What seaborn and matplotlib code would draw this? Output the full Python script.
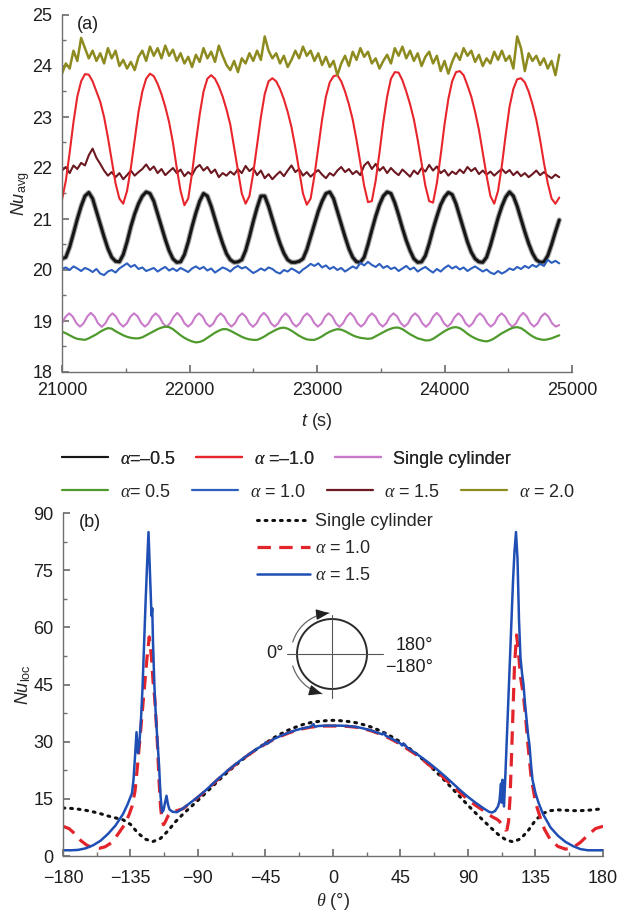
import numpy as np
import pandas as pd
import matplotlib
matplotlib.use("Agg")
import matplotlib.pyplot as plt
from matplotlib.lines import Line2D
from matplotlib.ticker import MultipleLocator
import seaborn as sns

# ---------------------------------------------------------------- data
# (a) area-averaged Nusselt number against time; every series spans the same window
T_START, T_END = 21000, 24900

nu_m05 = [20.22, 20.25, 20.45, 20.72, 21.0, 21.25, 21.45, 21.52, 21.4, 21.15, 20.9, 20.65, 20.42, 20.25,
          20.17, 20.16, 20.3, 20.55, 20.85, 21.1, 21.3, 21.45, 21.53, 21.5, 21.35, 21.1, 20.85, 20.6,
          20.38, 20.22, 20.15, 20.16, 20.3, 20.55, 20.85, 21.12, 21.35, 21.5, 21.45, 21.25, 21.0, 20.75,
          20.52, 20.32, 20.2, 20.15, 20.16, 20.2, 20.38, 20.65, 20.95, 21.22, 21.45, 21.45, 21.25, 21.0,
          20.75, 20.52, 20.33, 20.2, 20.15, 20.15, 20.17, 20.22, 20.4, 20.65, 20.9, 21.15, 21.35, 21.5,
          21.53, 21.4, 21.15, 20.9, 20.65, 20.42, 20.25, 20.16, 20.15, 20.25, 20.5, 20.78, 21.05, 21.28,
          21.45, 21.53, 21.5, 21.32, 21.08, 20.82, 20.58, 20.38, 20.22, 20.15, 20.16, 20.28, 20.52, 20.8,
          21.05, 21.28, 21.43, 21.52, 21.48, 21.3, 21.05, 20.8, 20.55, 20.35, 20.22, 20.16, 20.15, 20.25,
          20.48, 20.75, 21.02, 21.25, 21.43, 21.53, 21.45, 21.25, 21.0, 20.75, 20.52, 20.33, 20.2, 20.15,
          20.16, 20.28, 20.5, 20.75, 20.98]

nu_m10 = [21.38, 21.75, 22.3, 22.9, 23.4, 23.7, 23.84, 23.83, 23.7, 23.5, 23.3, 23.0, 22.6, 22.15, 21.7,
          21.4, 21.3, 21.55, 22.0, 22.55, 23.1, 23.5, 23.75, 23.85, 23.8, 23.65, 23.45, 23.2, 22.9, 22.5,
          22.0, 21.55, 21.27, 21.4, 21.9, 22.5, 23.05, 23.5, 23.75, 23.82, 23.75, 23.6, 23.4, 23.15, 22.85,
          22.4, 21.95, 21.5, 21.3, 21.45, 21.9, 22.45, 23.0, 23.45, 23.7, 23.76, 23.7, 23.55, 23.35, 23.1,
          22.8, 22.4, 21.95, 21.5, 21.28, 21.4, 21.85, 22.4, 22.95, 23.4, 23.68, 23.8, 23.82, 23.7, 23.5,
          23.25, 22.95, 22.55, 22.1, 21.65, 21.33, 21.35, 21.75, 22.3, 22.9, 23.4, 23.75, 23.88, 23.87,
          23.72, 23.5, 23.25, 22.95, 22.55, 22.1, 21.65, 21.35, 21.32, 21.7, 22.25, 22.85, 23.35, 23.7,
          23.88, 23.9, 23.82, 23.62, 23.4, 23.1, 22.75, 22.3, 21.85, 21.45, 21.3, 21.55, 22.05, 22.65,
          23.2, 23.55, 23.74, 23.76, 23.68, 23.5, 23.25, 22.95, 22.55, 22.1, 21.7, 21.4, 21.3, 21.42]

nu_single = [18.955, 19.085,
             19.15, 19.085, 18.955, 18.89, 18.955, 19.085, 19.16, 19.09, 18.955, 18.885, 18.95, 19.08,
             19.15, 19.085, 18.955, 18.89, 18.955, 19.085, 19.15, 19.09, 18.96, 18.89, 18.95, 19.08,
             19.15, 19.085, 18.955, 18.885, 18.955, 19.085, 19.16, 19.085, 18.955, 18.89, 18.955, 19.085,
             19.15, 19.09, 18.955, 18.89, 18.95, 19.08, 19.15, 19.085, 18.96, 18.89, 18.955, 19.085,
             19.15, 19.085, 18.955, 18.885, 18.955, 19.085, 19.16, 19.09, 18.955, 18.89, 18.955, 19.08,
             19.15, 19.085, 18.955, 18.89, 18.955, 19.085, 19.15, 19.085, 18.96, 18.89, 18.95, 19.085,
             19.15, 19.09, 18.955, 18.885, 18.955, 19.085, 19.16, 19.085, 18.955, 18.89, 18.955, 19.08,
             19.15, 19.085, 18.955, 18.89, 18.955, 19.085, 19.15, 19.09, 18.96, 18.89, 18.95, 19.085,
             19.15, 19.085, 18.955, 18.885, 18.955, 19.085, 19.16, 19.085, 18.955, 18.89, 18.955, 19.08,
             19.15, 19.09, 18.955, 18.89, 18.955, 19.085, 19.15, 19.085, 18.96, 18.89, 18.95, 19.085,
             19.15, 19.085, 18.955, 18.885, 18.955, 19.085, 19.16, 19.09, 18.955, 18.89, 18.955, 19.085,
             19.15, 19.085, 18.955, 18.89, 18.92]

nu_p05 = [18.79, 18.76, 18.72, 18.68, 18.65, 18.64, 18.63, 18.66, 18.7, 18.74, 18.79, 18.83, 18.86, 18.85,
          18.8, 18.76, 18.72, 18.69, 18.67, 18.66, 18.66, 18.68, 18.72, 18.76, 18.8, 18.84, 18.87, 18.89,
          18.88, 18.84, 18.78, 18.72, 18.67, 18.63, 18.6, 18.58, 18.59, 18.62, 18.67, 18.72, 18.77, 18.81,
          18.84, 18.84, 18.81, 18.77, 18.73, 18.69, 18.66, 18.64, 18.63, 18.63, 18.66, 18.7, 18.75, 18.79,
          18.83, 18.86, 18.87, 18.85, 18.81, 18.76, 18.71, 18.67, 18.64, 18.63, 18.63, 18.66, 18.7, 18.75,
          18.79, 18.82, 18.84, 18.83, 18.8, 18.76, 18.72, 18.69, 18.67, 18.66, 18.65, 18.66, 18.7, 18.74,
          18.78, 18.82, 18.85, 18.87, 18.87, 18.84, 18.79, 18.74, 18.7, 18.66, 18.64, 18.62, 18.62, 18.65,
          18.7, 18.75, 18.8, 18.84, 18.87, 18.88, 18.86, 18.81, 18.75, 18.7, 18.66, 18.63, 18.61, 18.6,
          18.62, 18.66, 18.71, 18.76, 18.8, 18.84, 18.87, 18.88, 18.86, 18.81, 18.75, 18.7, 18.66, 18.64,
          18.63, 18.64, 18.66, 18.69, 18.72]

nu_p10 = [20.02, 20.05, 20.0, 20.07, 20.03, 19.98, 20.04, 20.01, 19.96, 20.02, 19.93, 19.9, 19.97, 20.0,
          19.95, 20.03, 20.08, 20.13, 20.06, 20.1, 20.02, 20.05, 19.98, 20.01, 20.04, 19.97, 20.02, 20.06,
          19.99, 20.03, 19.98, 20.04, 20.0, 19.96, 20.03, 20.07, 20.02, 20.06, 19.99, 20.03, 19.95, 20.0,
          20.05, 20.02, 19.97, 20.04, 20.08, 20.03, 20.06, 20.0, 19.94, 19.98, 20.03, 19.99, 20.05, 20.02,
          19.96, 19.93, 20.0, 19.97, 20.03, 19.99, 19.94, 20.01, 20.06, 20.12, 20.08, 20.13, 20.05, 20.09,
          20.02, 20.06, 20.0, 20.04, 19.97, 20.02, 20.07, 20.03, 20.14, 20.09, 20.16, 20.1, 20.06, 20.12,
          20.04, 20.08, 20.02, 20.05, 19.98, 20.03, 20.08, 20.01, 20.05, 19.97, 20.02, 20.06, 20.0, 19.95,
          20.02, 19.97, 20.04, 20.09, 20.03, 20.07, 20.01, 20.05, 19.98, 20.03, 20.07, 20.02, 19.97, 20.01,
          19.95, 19.92, 19.98, 19.93, 19.97, 20.03, 20.0, 20.06, 20.02, 20.08, 20.04, 20.1, 20.06, 20.12,
          20.08, 20.2, 20.14, 20.18, 20.13]

nu_p15 = [21.95, 22.02, 21.9, 22.05, 21.98, 22.1, 22.05, 22.25, 22.38, 22.2, 22.08, 21.95, 21.85, 21.92,
          21.82, 21.9, 21.78, 21.86, 21.95, 21.85, 21.92, 21.98, 22.07, 21.96, 22.03, 21.9, 21.98, 21.86,
          21.93, 22.0, 21.9, 21.97, 21.84, 21.92, 21.86, 22.0, 22.06, 21.95, 22.02, 21.9, 21.97, 21.82,
          21.9, 21.85, 21.93, 21.87, 21.98, 21.9, 22.04, 21.94, 22.0, 21.86, 21.95, 21.8, 21.88, 21.78,
          21.86, 21.93, 21.84, 21.95, 22.05, 21.92, 21.98, 21.85, 21.92, 21.83, 21.9, 21.96, 21.87, 21.8,
          21.9, 21.85, 21.95, 22.02, 21.92, 21.98, 21.88, 21.94, 21.86, 22.05, 22.12, 21.98, 22.08, 21.95,
          22.02, 21.9, 22.0, 21.92, 21.86, 21.97, 21.9, 21.83, 21.95, 21.88, 22.0, 21.93, 22.06, 21.95,
          22.03, 21.9, 21.96, 21.85, 21.93, 21.88, 21.97, 21.9, 22.02, 21.94, 22.0, 21.88, 21.95, 21.87,
          21.93, 21.85, 21.92, 21.98, 21.9, 21.96, 21.86, 21.93, 21.84, 21.9, 21.82, 21.88, 21.95, 21.86,
          21.92, 21.85, 21.8, 21.87, 21.82]

nu_p20 = [23.85, 24.05, 23.95, 24.3, 24.1, 24.55, 24.35, 24.15, 24.3, 24.1, 24.25, 24.05, 24.35, 24.15,
          24.3, 24.0, 24.12, 23.95, 24.08, 23.92, 24.18, 24.3, 24.1, 24.38, 24.2, 24.35, 24.15, 24.4, 24.2,
          24.32, 24.1, 24.25, 24.05, 24.18, 23.98, 24.22, 24.08, 24.35, 24.15, 24.28, 24.08, 24.4, 24.2,
          24.02, 23.92, 24.1, 23.88, 24.15, 24.05, 24.25, 24.1, 24.3, 24.12, 24.58, 24.3, 24.15, 24.25,
          24.05, 24.2, 23.98, 24.12, 24.3, 24.15, 24.38, 24.2, 24.3, 24.1, 24.25, 24.02, 24.18, 23.98,
          24.1, 23.82, 24.05, 24.2, 24.0, 24.28, 24.12, 24.35, 24.18, 24.28, 24.05, 24.15, 23.95, 24.1,
          24.22, 24.05, 24.35, 24.2, 24.38, 24.15, 24.3, 24.1, 24.25, 24.0, 24.18, 24.28, 24.05, 24.2,
          23.9, 24.1, 23.85, 24.08, 24.25, 24.12, 24.35, 24.2, 24.3, 24.08, 24.22, 24.0, 24.15, 24.05,
          24.28, 24.12, 24.3, 24.1, 24.2, 23.95, 24.58, 24.35, 23.9, 24.25, 24.1, 24.2, 24.02, 24.15,
          23.95, 24.1, 23.82, 24.22]

# (b) local Nusselt number around the cylinder
theta_single = list(range(-180, 181, 5))
nuloc_single = [12.6, 12.5, 12.3, 12.0, 11.6, 11.1, 10.5, 10.0, 9.5, 8.3, 6.0, 4.4, 3.8, 4.6, 6.6, 9.0,
                11.0, 12.8, 14.6, 16.5, 18.4, 20.3, 22.1, 23.8, 25.4, 26.9, 28.3, 29.6, 30.9, 32.0, 33.0,
                33.8, 34.5, 35.0, 35.3, 35.5, 35.6,
                35.5, 35.3, 35.0, 34.5, 33.9, 33.1, 32.2, 31.1, 29.9, 28.5, 27.0, 25.3, 23.5, 21.6, 19.6,
                17.5, 15.4, 13.3, 11.3, 9.4, 7.5, 5.7, 4.3, 3.7, 4.5, 6.6, 9.4, 11.2, 11.9, 12.1, 12.0,
                11.9, 11.9, 12.0, 12.2, 12.4]

theta_a10 = [-180, -176, -172, -168, -164, -160, -156, -152, -148, -145, -142, -139, -136, -134, -132,
             -130, -128, -126, -124, -122.5, -121, -120, -119, -118, -117, -116, -115, -114, -113, -112,
             -110, -108, -105,
             -100, -95, -90, -85, -80, -75, -70, -65, -60, -55, -50, -45, -40, -35, -30, -25, -20, -15,
             -10, -5, 0, 5, 10, 15, 20, 25, 30, 35, 40, 45, 50, 55, 60, 65, 70, 75, 80, 85, 90, 95, 100,
             104, 107, 109, 111, 113, 115, 116, 117, 118, 119, 120, 121, 122.4, 123.5, 125, 127, 128.5,
             130, 132, 135, 138, 141, 145, 150, 155, 160, 165, 170, 175, 180]
nuloc_a10 = [7.8, 7.2, 5.8, 4.0, 2.8, 2.2, 2.0, 2.4, 3.4, 4.8, 6.5, 8.2, 10.8, 13.0, 17.0,
             25.0, 34.0, 43.0, 52.0, 57.5, 52.0, 46.0, 42.0, 36.0, 29.0, 20.0, 13.0, 9.5, 8.2, 8.8,
             10.5, 11.5, 11.8,
             12.4, 13.9, 15.4, 17.1, 18.9, 20.7, 22.4, 24.0, 25.5, 26.9, 28.2, 29.4, 30.5, 31.4, 32.2,
             32.9, 33.4, 33.8, 34.0, 34.1, 34.1, 34.1, 34.0, 33.8, 33.4, 32.9, 32.2, 31.4, 30.4, 29.3,
             28.0, 26.7, 25.2, 23.6, 21.9, 20.1, 18.3, 16.5, 14.8, 13.3, 12.0,
             10.8, 10.1, 9.7, 9.1, 7.9, 6.8, 6.9, 9.0, 15.0, 26.0, 38.0, 50.0, 58.0, 54.0, 47.0, 42.0,
             36.0, 29.0, 21.0, 14.0, 10.3, 7.0, 4.2, 2.5, 1.8, 2.2, 3.6, 5.5, 7.2, 7.8]

theta_a15 = [-180, -175, -170, -165, -160, -155, -150, -145, -140, -137, -135, -134, -133, -132, -131,
             -130, -129, -128, -127, -126, -125, -124, -123, -122, -121, -120.5, -120, -119, -118, -117,
             -116, -115, -114, -113, -112, -111, -110, -109, -107, -104,
             -100, -95, -90, -85, -80, -75, -70, -65, -60, -55, -50, -46, -45, -44, -40, -35, -30, -25,
             -20, -15, -13, -12, -10, -5, 0, 5, 10, 15, 20, 25, 30, 33, 34, 35, 40, 45, 46, 47, 50, 55,
             60, 65, 70, 75, 80, 85, 90, 95, 100,
             104, 106, 108, 110, 111, 112, 112.5, 113, 114, 115, 116, 117, 118, 119, 120, 121, 122, 123,
             124, 125, 126, 127, 128, 129, 130, 131, 132, 133, 135, 137, 140, 145, 150, 155, 160, 165,
             170, 175, 180]
nuloc_a15 = [1.5, 1.5, 1.6, 2.0, 2.8, 4.0, 5.8, 8.0, 11.0, 13.5, 15.5, 16.5, 20.0, 26.0, 32.5,
             27.0, 30.0, 36.0, 44.0, 55.0, 66.0, 76.0, 85.0, 74.0, 63.0, 65.0, 56.0, 44.0, 36.0, 30.0,
             24.0, 16.0, 11.5, 12.0, 14.0, 15.8, 13.5, 12.2, 11.6, 11.5,
             12.5, 14.0, 15.5, 17.2, 19.0, 20.8, 22.5, 24.1, 25.6, 27.0, 28.3, 29.2, 29.8, 29.4, 30.6,
             31.5, 32.3, 33.0, 33.5, 33.9, 34.6, 33.9, 34.1, 34.2, 34.2, 34.2, 34.1, 33.9, 33.5, 33.0,
             32.3, 31.9, 32.3, 31.6, 30.6, 29.5, 29.0, 29.5, 28.3, 27.0, 25.6, 24.1, 22.5, 20.8, 19.0,
             17.2, 15.5, 14.0, 12.6,
             11.6, 11.4, 11.8, 13.0, 14.5, 19.0, 14.0, 20.0, 13.0, 22.0, 32.0, 42.0, 52.0, 62.0, 72.0,
             80.0, 85.0, 78.0, 62.0, 52.0, 48.0, 45.0, 40.0, 36.0, 32.0, 29.0, 24.0, 20.0, 16.5, 14.0,
             11.0, 7.5, 5.3, 3.7, 2.6, 1.8, 1.5, 1.5, 1.5]

LABEL_M05, LABEL_M10, LABEL_SINGLE = r"$\alpha$=–0.5", r"$\alpha$ =–1.0", "Single cylinder"
LABEL_P05, LABEL_P10, LABEL_P15, LABEL_P20 = (r"$\alpha$= 0.5", r"$\alpha$ = 1.0",
                                              r"$\alpha$ = 1.5", r"$\alpha$ = 2.0")

# ---------------------------------------------------------------- style
sns.set_theme(style="ticks")
plt.rcParams.update({
    "font.family": ["Liberation Sans", "DejaVu Sans"],
    "mathtext.fontset": "custom",
    "mathtext.rm": "Liberation Sans",
    "mathtext.it": "Liberation Serif:italic",
    "mathtext.sf": "Liberation Sans:italic",
    "axes.edgecolor": "#707070",
    "axes.linewidth": 1.0,
    "xtick.color": "#707070",
    "ytick.color": "#707070",
    "xtick.labelcolor": "#1e1e1e",
    "ytick.labelcolor": "#1e1e1e",
    "xtick.direction": "in",
    "ytick.direction": "in",
    "xtick.major.size": 5,
    "ytick.major.size": 5,
    "xtick.minor.size": 3,
    "ytick.minor.size": 3,
    "font.size": 13,
})

C_M05, C_M10, C_SINGLE = "#161616", "#e8252b", "#c97bc9"
C_P05, C_P10, C_P15, C_P20 = "#4f9a2c", "#2d5fbf", "#6b1820", "#8d8a1f"
C_B_RED, C_B_BLUE = "#e3242b", "#1f4eb4"

W, H = 618, 913
fig = plt.figure(figsize=(W / 100, H / 100), dpi=100)
fig.patch.set_facecolor("white")


def box(left, top, right, bottom):
    return [left / W, 1 - bottom / H, (right - left) / W, (bottom - top) / H]


def series(values):
    return pd.DataFrame({"t": np.linspace(T_START, T_END, len(values)), "nu": values})


# ---------------------------------------------------------------- panel (a)
ax_a = fig.add_axes(box(62, 15, 572, 372))
ax_a.set_facecolor("white")
sns.lineplot(data=series(nu_p15), x="t", y="nu", ax=ax_a, color=C_P15, lw=1.5, estimator=None)
sns.lineplot(data=series(nu_m10), x="t", y="nu", ax=ax_a, color=C_M10, lw=1.5, estimator=None)
sns.lineplot(data=series(nu_m05), x="t", y="nu", ax=ax_a, color="#202020", lw=3.8, alpha=0.4,
             estimator=None)
sns.lineplot(data=series(nu_m05), x="t", y="nu", ax=ax_a, color=C_M05, lw=2.2, estimator=None)
sns.lineplot(data=series(nu_p20), x="t", y="nu", ax=ax_a, color=C_P20, lw=1.8, estimator=None)
sns.lineplot(data=series(nu_p10), x="t", y="nu", ax=ax_a, color=C_P10, lw=1.5, estimator=None)
sns.lineplot(data=series(nu_single), x="t", y="nu", ax=ax_a, color=C_SINGLE, lw=1.5, estimator=None)
sns.lineplot(data=series(nu_p05), x="t", y="nu", ax=ax_a, color=C_P05, lw=1.6, estimator=None)

ax_a.set_xlim(21000, 25000)
ax_a.set_ylim(18, 25)
ax_a.xaxis.set_major_locator(MultipleLocator(1000))
ax_a.xaxis.set_minor_locator(MultipleLocator(500))
ax_a.yaxis.set_major_locator(MultipleLocator(1))
ax_a.yaxis.set_minor_locator(MultipleLocator(0.5))
ax_a.tick_params(axis="both", which="both", labelsize=13)
ax_a.tick_params(axis="x", pad=7)
ax_a.tick_params(axis="y", pad=7)
sns.despine(ax=ax_a)
ax_a.set_xlabel(r"$\mathsf{t}$ (s)", fontsize=13)
ax_a.set_ylabel(r"$\mathsf{Nu}_{\mathrm{avg}}$", fontsize=13)
ax_a.xaxis.set_label_coords(0.5, -0.11)
ax_a.yaxis.set_label_coords(-0.058, 0.5)
ax_a.text(0.03, 0.972, "(a)", transform=ax_a.transAxes, fontsize=13, va="center", ha="left",
          color="#1e1e1e")


def handle(color, **kw):
    return Line2D([], [], color=color, lw=kw.pop("lw", 1.6), **kw)


leg1 = fig.legend([handle(C_M05, lw=1.5), handle(C_M10), handle(C_SINGLE)],
                  [LABEL_M05, LABEL_M10, LABEL_SINGLE], ncol=3, loc="center left",
                  bbox_to_anchor=(62 / W, 1 - 459 / H), frameon=False, fontsize=13,
                  handlelength=2.55, handletextpad=0.65, columnspacing=1.1,
                  borderpad=0, borderaxespad=0)
fig.add_artist(leg1)
fig.legend([handle(C_P05), handle(C_P10), handle(C_P15), handle(C_P20)],
           [LABEL_P05, LABEL_P10, LABEL_P15, LABEL_P20], ncol=4, loc="center left",
           bbox_to_anchor=(62 / W, 1 - 492 / H), frameon=False, fontsize=13,
           handlelength=2.55, handletextpad=0.65, columnspacing=1.15,
           borderpad=0, borderaxespad=0)

# ---------------------------------------------------------------- panel (b)
ax_b = fig.add_axes(box(63, 513, 603, 856))
ax_b.set_facecolor("white")
df_single = pd.DataFrame({"theta": theta_single, "nu": nuloc_single})
df_a10 = pd.DataFrame({"theta": theta_a10, "nu": nuloc_a10})
df_a15 = pd.DataFrame({"theta": theta_a15, "nu": nuloc_a15})
DOT = (0, (0.6, 1.9))
DASH = (0, (4.2, 2.6))
sns.lineplot(data=df_single, x="theta", y="nu", ax=ax_b, color="#111111", lw=2.2, linestyle=DOT,
             dash_capstyle="round", estimator=None)
sns.lineplot(data=df_a10, x="theta", y="nu", ax=ax_b, color=C_B_RED, lw=2.3, linestyle=DASH,
             estimator=None)
sns.lineplot(data=df_a15, x="theta", y="nu", ax=ax_b, color=C_B_BLUE, lw=1.8, estimator=None)

ax_b.set_xlim(-180, 180)
ax_b.set_ylim(0, 90)
ax_b.xaxis.set_major_locator(MultipleLocator(45))
ax_b.xaxis.set_minor_locator(MultipleLocator(22.5))
ax_b.yaxis.set_major_locator(MultipleLocator(15))
ax_b.yaxis.set_minor_locator(MultipleLocator(7.5))
ax_b.tick_params(axis="both", which="both", labelsize=13)
ax_b.tick_params(axis="x", pad=10)
ax_b.tick_params(axis="y", pad=7)
sns.despine(ax=ax_b)
ax_b.set_xlabel(r"$\theta$ (°)", fontsize=13)
ax_b.set_ylabel(r"$\mathsf{Nu}_{\mathrm{loc}}$", fontsize=13)
ax_b.xaxis.set_label_coords(0.5, -0.102)
ax_b.yaxis.set_label_coords(-0.056, 0.5)
ax_b.text(0.03, 0.972, "(b)", transform=ax_b.transAxes, fontsize=13, va="center", ha="left",
          color="#1e1e1e")

ax_b.legend([Line2D([], [], color="#111111", lw=2.2, linestyle=DOT, dash_capstyle="round"),
             Line2D([], [], color=C_B_RED, lw=2.3, linestyle=DASH),
             Line2D([], [], color=C_B_BLUE, lw=1.8)],
            [LABEL_SINGLE, r"$\alpha$ = 1.0", r"$\alpha$ = 1.5"],
            loc="upper left", bbox_to_anchor=(257 / W, 1 - 513 / H), bbox_transform=fig.transFigure,
            frameon=False, fontsize=13, handlelength=2.95, handletextpad=0.25, labelspacing=0.55,
            borderpad=0, borderaxespad=0)

# angle convention sketch: unit = one pixel, origin at the cylinder centre
R_CYL, R_ARROW = 35, 41
ax_in = fig.add_axes(box(255, 605, 435, 705))
ax_in.set_xlim(-77, 103)
ax_in.set_ylim(-51, 49)
ax_in.axis("off")
ang = np.linspace(0, 2 * np.pi, 200)
ax_in.plot(R_CYL * np.cos(ang), R_CYL * np.sin(ang), color="#2a2a2a", lw=1.4)
ax_in.plot([-45, 51], [0, 0], color="#555555", lw=0.8)
ax_in.plot([0, 0], [-44, 39], color="#555555", lw=0.8)
for a0, a1 in ((163, 94), (197, 256)):
    arc = np.radians(np.linspace(a0, a1, 40))
    ax_in.plot(R_ARROW * np.cos(arc), R_ARROW * np.sin(arc), color="#666666", lw=0.9)
    ax_in.annotate("", xy=(R_ARROW * np.cos(arc[-1]), R_ARROW * np.sin(arc[-1])),
                   xytext=(R_ARROW * np.cos(arc[-4]), R_ARROW * np.sin(arc[-4])),
                   arrowprops=dict(arrowstyle="-|>,head_length=0.6,head_width=0.25",
                                   color="#222222", lw=0.9, shrinkA=0, shrinkB=0))
ax_in.text(-48, 0, "0°", ha="right", va="center", fontsize=13, color="#1e1e1e")
ax_in.text(101, 9, "180°", ha="right", va="center", fontsize=13, color="#1e1e1e")
ax_in.text(101, -14, "−180°", ha="right", va="center", fontsize=13, color="#1e1e1e")

fig.savefig("out.png", dpi=100, facecolor="white")
